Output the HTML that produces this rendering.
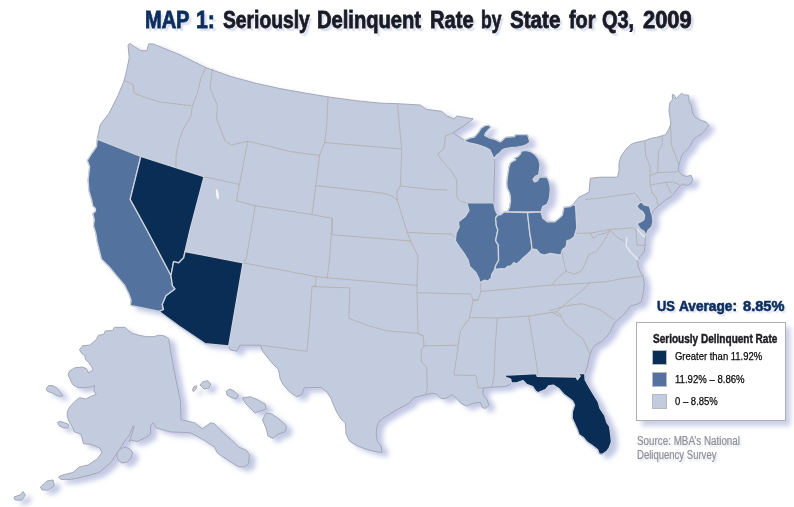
<!DOCTYPE html>
<html lang="en"><head><meta charset="utf-8"><title>MAP 1: Seriously Delinquent Rate by State for Q3, 2009</title>
<style>
html,body{margin:0;padding:0;background:#fff;}
body{width:794px;height:507px;overflow:hidden;position:relative;font-family:"Liberation Sans",Arial,sans-serif;}
#map{position:absolute;left:0;top:0;}
.t{position:absolute;white-space:nowrap;transform-origin:0 0;line-height:1;}
.title{font-weight:bold;color:#1b1b26;text-shadow:3px 3px 2px #d6dded;-webkit-text-stroke:0.8px #1b1b26;}
.title.navy{color:#0b2e5e;-webkit-text-stroke:0.8px #0b2e5e;}
.avg{font-weight:bold;color:#0b2e5e;text-shadow:2px 2px 2px #d6dded;-webkit-text-stroke:0.6px #0b2e5e;}
.legend{position:absolute;left:636px;top:322.3px;width:147.5px;height:97.2px;border:1px solid #adadb8;background:#fff;box-shadow:4.5px 5px 5px #c9cfe6;}
.lt{font-weight:bold;color:#1c1c22;-webkit-text-stroke:0.45px #1c1c22;}
.li{color:#0a0a0a;-webkit-text-stroke:0.25px #0a0a0a;}
.sw{position:absolute;left:652.2px;width:13.2px;height:13.2px;border:1.6px solid #b6b8c3;}
.src{color:#8f8f96;-webkit-text-stroke:0.2px #8f8f96;text-shadow:2px 2px 2px #d9deec;}
</style></head><body>

<svg id="map" width="794" height="507" viewBox="0 0 794 507">
<defs><filter id="sh" x="-5%" y="-5%" width="115%" height="115%"><feGaussianBlur in="SourceAlpha" stdDeviation="2.8" result="b"/><feOffset in="b" dx="5.5" dy="4" result="o"/><feFlood flood-color="#b8bfe0" flood-opacity="0.85"/><feComposite in2="o" operator="in" result="s"/><feMerge><feMergeNode in="s"/><feMergeNode in="SourceGraphic"/></feMerge></filter></defs>
<g filter="url(#sh)" fill="#c3cbdf" stroke="#a4a8b6" stroke-width="1" stroke-linejoin="round">
<path d="M128.0,45.0 L130.0,43.5 L134.3,46.4 L140.6,50.7 L146.9,50.7 L148.7,43.9 L153.2,43.9 L181.0,55.3 L206.3,67.9 L231.5,76.7 L256.8,83.5 L280.0,88.6 L305.3,93.1 L328.0,96.9 L355.8,100.7 L381.0,103.2 L397.4,103.7 L420.2,105.0 L426.5,109.5 L441.6,111.3 L446.7,115.9 L454.2,118.9 L456.8,115.9 L473.2,118.9 L465.0,125.0 L452.6,132.8 L464.4,140.4 L469.7,138.1 L474.3,137.0 L478.1,132.8 L481.1,128.2 L484.9,125.6 L488.7,125.2 L491.0,127.0 L488.7,129.4 L485.7,132.8 L484.6,135.5 L489.5,137.8 L495.6,139.6 L500.1,141.9 L502.4,140.4 L505.4,137.3 L514.6,136.6 L515.3,134.6 L527.5,134.6 L528.7,138.1 L529.8,142.2 L526.7,144.6 L521.4,146.5 L516.8,147.2 L510.8,147.7 L505.4,148.7 L502.4,149.8 L500.1,152.5 L496.3,155.6 L493.7,158.6 L494.8,160.6 L494.5,173.2 L494.0,188.4 L493.8,202.8 L495.2,210.0 L497.8,215.0 L501.0,214.5 L504.0,212.0 L507.5,211.6 L509.5,207.5 L510.5,201.5 L510.3,196.0 L509.3,192.4 L507.3,188.3 L506.8,183.3 L507.3,177.2 L508.3,171.2 L508.8,167.2 L510.3,163.0 L513.3,161.0 L515.8,159.8 L514.3,158.0 L517.4,157.0 L520.4,154.0 L521.4,151.0 L526.0,150.4 L530.5,151.5 L535.5,155.0 L538.5,159.0 L540.0,164.0 L539.5,170.2 L538.5,175.2 L535.5,176.2 L533.0,179.3 L534.5,181.8 L537.5,180.8 L539.5,177.2 L546.6,177.0 L548.6,180.3 L550.0,185.3 L550.3,189.1 L549.5,198.2 L547.2,204.3 L542.7,206.6 L541.1,211.9 L542.7,218.0 L547.2,221.8 L554.8,221.8 L559.4,218.0 L562.4,215.0 L563.9,207.3 L570.0,206.6 L572.6,204.8 L578.9,197.2 L589.0,192.2 L590.3,178.3 L600.0,177.2 L617.5,177.2 L619.0,170.4 L619.0,162.8 L621.3,155.6 L626.1,149.1 L630.6,144.6 L635.2,142.6 L644.3,140.8 L650.4,138.5 L658.0,137.0 L665.6,134.7 L668.6,129.4 L670.9,124.1 L670.1,118.0 L668.9,110.4 L669.8,102.8 L672.4,99.7 L672.4,94.4 L674.4,95.2 L676.2,99.0 L678.5,96.0 L681.5,93.4 L684.6,94.9 L688.7,95.2 L689.1,101.3 L691.4,105.8 L692.2,111.9 L694.4,116.5 L700.5,120.3 L705.8,121.8 L708.9,125.6 L705.1,130.1 L702.0,133.9 L697.5,136.2 L692.9,140.0 L690.6,145.3 L686.8,149.9 L683.8,152.9 L682.0,155.2 L680.5,159.7 L679.0,164.3 L678.2,170.4 L682.0,174.9 L686.6,176.5 L691.1,175.2 L692.7,179.5 L691.1,183.3 L686.6,185.6 L682.8,184.0 L680.5,185.6 L677.5,188.6 L674.4,193.2 L670.6,197.0 L665.3,200.0 L660.8,203.8 L656.2,207.6 L652.9,211.4 L652.3,215.4 L652.9,222.0 L651.7,226.7 L648.1,230.2 L646.0,235.6 L645.2,238.5 L645.0,245.0 L644.3,251.5 L640.5,256.0 L637.5,260.6 L638.2,266.6 L640.5,272.0 L642.8,275.8 L644.3,283.4 L643.8,290.0 L642.7,296.1 L641.1,302.2 L636.6,304.4 L630.5,306.0 L627.5,309.7 L624.4,314.3 L619.9,318.1 L615.3,321.9 L612.3,327.2 L610.0,332.5 L606.2,337.1 L601.6,341.6 L595.6,344.7 L592.5,348.5 L590.3,353.8 L588.7,359.9 L587.2,367.0 L584.8,373.4 L585.1,379.7 L588.9,386.6 L593.4,394.2 L598.2,402.0 L600.2,408.7 L604.7,415.5 L606.8,422.3 L609.5,426.5 L610.7,434.5 L611.4,442.1 L609.1,448.2 L606.8,451.2 L602.3,454.2 L599.2,453.9 L597.7,449.7 L591.6,445.1 L587.1,442.1 L583.3,437.5 L579.0,434.5 L577.5,430.0 L574.8,424.0 L572.2,418.2 L572.4,411.7 L574.6,405.0 L572.7,401.1 L569.9,398.7 L563.8,394.2 L559.2,388.9 L553.2,385.1 L548.6,385.8 L545.6,389.6 L538.0,392.7 L535.7,391.1 L532.7,386.6 L526.6,384.3 L522.8,380.5 L516.7,382.8 L511.4,382.8 L509.4,385.0 L504.8,386.5 L491.1,387.2 L483.5,388.0 L482.8,394.0 L487.3,400.1 L488.9,405.4 L485.1,408.5 L482.0,407.0 L480.5,402.4 L472.9,403.2 L466.8,406.2 L460.8,403.2 L457.0,398.6 L451.6,394.8 L445.6,398.6 L441.0,398.6 L436.5,394.0 L431.9,393.3 L425.8,394.8 L419.7,396.3 L413.7,397.8 L409.1,403.2 L403.5,406.3 L396.4,409.8 L389.2,414.5 L382.1,418.7 L378.6,422.3 L376.8,427.0 L376.2,434.1 L377.4,441.2 L381.0,446.0 L382.1,452.5 L377.4,451.9 L369.1,450.1 L357.3,445.9 L349.5,441.2 L346.0,434.1 L345.4,422.8 L340.7,418.7 L335.9,410.4 L334.0,406.0 L331.0,398.4 L327.2,392.3 L321.1,387.4 L304.4,387.7 L301.4,394.6 L296.8,396.8 L289.2,391.5 L283.2,384.7 L280.1,378.6 L278.6,369.5 L274.0,365.0 L268.0,358.1 L262.7,351.3 L260.4,345.2 L240.0,345.2 L236.8,351.3 L230.0,349.7 L228.7,346.0 L205.0,343.6 L179.0,326.0 L159.2,311.5 L130.4,305.4 L131.1,300.1 L128.9,294.0 L124.3,284.9 L116.7,275.8 L109.1,266.7 L101.5,259.1 L99.6,251.6 L97.3,242.5 L95.8,233.4 L93.5,225.8 L94.3,219.7 L92.8,213.7 L95.5,211.0 L95.5,208.5 L92.8,206.0 L91.8,200.5 L88.9,190.8 L88.1,180.1 L89.6,166.5 L87.3,160.4 L92.7,152.0 L96.5,146.7 L97.2,139.1 L100.2,124.7 L109.0,113.3 L117.9,95.7 L124.2,80.5 L126.7,70.4 L129.2,57.8Z"/>
<path d="M79.5,349.6 L82.5,345.8 L90.1,345.1 L92.4,342.8 L96.2,339.7 L98.5,335.2 L103.8,334.4 L105.3,330.9 L112.9,330.6 L114.4,327.3 L125.1,327.3 L128.1,330.6 L132.7,333.7 L138.7,335.2 L146.3,336.7 L153.9,336.7 L158.5,335.2 L163.0,335.5 L167.7,337.7 L168.7,338.6 L171.0,353.8 L173.3,366.0 L177.0,385.0 L180.3,400.0 L181.0,419.7 L194.7,422.8 L202.3,428.9 L210.6,422.8 L214.4,423.5 L220.5,430.4 L231.1,439.5 L238.7,447.1 L246.3,450.1 L249.4,454.7 L248.6,463.8 L244.8,466.8 L238.7,466.8 L231.1,462.3 L222.0,456.2 L217.5,453.2 L214.4,447.1 L205.3,441.0 L196.2,435.7 L190.1,432.7 L170.4,431.9 L156.7,428.1 L152.9,422.8 L150.6,425.8 L150.4,434.0 L146.3,437.1 L137.2,441.6 L131.1,440.1 L129.0,442.0 L131.5,436.0 L134.2,426.0 L133.0,426.0 L129.5,435.0 L125.0,440.5 L123.0,444.0 L119.0,450.0 L115.0,456.0 L112.0,461.0 L106.3,466.5 L98.7,472.5 L91.1,474.8 L82.0,477.1 L71.4,479.4 L60.8,479.4 L58.5,477.1 L60.8,475.6 L66.8,474.0 L72.9,472.5 L79.0,467.2 L88.1,464.9 L97.2,458.9 L101.8,452.8 L100.3,448.2 L91.1,444.4 L83.5,443.7 L81.0,434.1 L74.2,431.8 L72.7,427.2 L69.6,422.7 L67.3,417.3 L67.3,411.3 L70.4,406.0 L74.9,401.4 L79.5,397.6 L85.6,399.1 L91.6,396.1 L96.2,394.4 L93.9,390.6 L94.7,385.3 L91.6,386.8 L85.6,387.6 L78.0,387.6 L72.7,384.6 L70.4,380.0 L68.1,374.7 L69.6,370.9 L74.9,367.8 L82.5,367.1 L86.3,368.6 L88.6,373.2 L93.2,369.4 L90.9,365.6 L88.6,362.5 L85.6,359.5 L84.8,355.7 L81.0,352.7Z"/>
<path d="M46.1,389.1 L48.4,385.6 L52.9,385.6 L57.5,388.4 L60.5,392.9 L62.8,396.0 L58.2,396.0 L52.2,392.9 L47.6,391.4Z"/>
<path d="M57.5,422.7 L60.0,421.2 L64.3,422.7 L68.1,424.2 L69.0,426.5 L67.3,428.0 L62.8,427.7 L59.0,425.7Z"/>
<path d="M117.5,452.0 L121.0,448.5 L126.0,447.0 L130.5,449.5 L132.7,453.0 L131.0,458.0 L127.0,462.0 L122.0,463.0 L118.0,460.0 L116.7,456.0Z"/>
<path d="M40.4,487.0 L47.0,481.0 L53.0,480.0 L54.3,486.0 L48.0,490.0 L42.0,490.0Z"/>
<path d="M13.9,497.0 L20.0,495.0 L23.0,491.4 L25.3,495.0 L22.0,500.2 L15.0,500.0Z"/>
<path d="M192.5,390.0 L194.0,386.5 L196.8,385.9 L196.0,389.0 L193.5,391.7Z"/>
<path d="M200.0,385.0 L203.0,381.5 L208.0,380.8 L210.7,384.0 L209.0,388.0 L204.0,389.0Z"/>
<path d="M226.4,391.0 L230.0,389.0 L234.0,391.0 L238.5,395.0 L236.0,399.0 L231.0,397.5 L227.0,395.0Z"/>
<path d="M242.3,398.0 L250.0,396.7 L258.0,400.0 L265.0,404.0 L266.3,409.0 L260.0,411.0 L255.0,413.0 L251.0,409.0 L246.0,404.0Z"/>
<path d="M262.5,420.0 L266.0,413.0 L272.0,414.0 L279.0,419.0 L286.5,426.0 L285.0,432.0 L278.0,434.0 L273.0,438.4 L268.0,436.0 L266.0,428.0Z"/>
</g>
<g fill="none" stroke="#b3aea8" stroke-width="1" stroke-opacity="0.9" stroke-dasharray="1.5 1" stroke-linejoin="round" stroke-linecap="round">
<path d="M124.2,80.5 L133.0,84.3 L134.3,93.1 L145.7,97.7 L160.8,102.0 L181.0,104.5 L191.1,105.8"/>
<path d="M205.5,67.9 L201.0,78.0 L197.4,93.0 L192.4,105.8"/>
<path d="M212.6,69.0 L210.0,88.0 L217.6,105.8 L216.4,118.4 L225.2,141.0 L231.5,145.0 L240.0,143.0 L247.7,141.4"/>
<path d="M192.4,105.8 L191.0,116.0 L183.5,128.5 L179.7,138.6 L176.0,156.0 L176.0,168.0"/>
<path d="M204.0,176.7 L239.0,184.3"/>
<path d="M247.7,141.4 L236.3,200.7"/>
<path d="M247.7,141.4 L270.4,146.4 L289.3,151.5 L308.3,154.0 L319.6,155.3"/>
<path d="M328.0,96.9 L326.7,126.0 L324.7,142.6 L319.6,155.3"/>
<path d="M324.7,142.6 L401.7,149.0"/>
<path d="M397.4,103.7 L400.0,131.0 L401.7,149.0 L400.5,185.6 L397.0,192.0 L397.0,199.4"/>
<path d="M236.3,200.7 L255.3,205.8 L312.0,214.6"/>
<path d="M255.3,205.8 L246.4,258.0 L243.0,262.8"/>
<path d="M319.6,155.3 L315.9,185.6 L312.0,214.6"/>
<path d="M315.9,185.6 L381.5,193.0 L390.0,195.0 L397.0,199.4"/>
<path d="M400.5,186.0 L429.5,189.3 L447.0,190.0"/>
<path d="M397.0,199.4 L406.8,231.0 L410.6,241.0"/>
<path d="M312.0,214.6 L332.3,218.4 L332.3,234.8"/>
<path d="M332.3,234.8 L410.6,241.0"/>
<path d="M332.3,218.4 L329.7,258.0 L327.2,277.8"/>
<path d="M243.0,262.8 L315.9,276.5 L327.2,277.8"/>
<path d="M327.2,277.8 L416.9,285.4"/>
<path d="M410.6,241.0 L418.0,256.0 L417.0,285.4"/>
<path d="M315.9,276.5 L315.9,285.4 L312.0,286.6 L309.5,323.0 L307.0,351.0"/>
<path d="M312.0,286.6 L350.0,287.9 L348.7,318.2 L368.9,325.8 L386.6,330.8 L416.9,333.3 L423.2,335.9"/>
<path d="M260.4,345.2 L306.7,351.3"/>
<path d="M416.9,285.4 L418.0,333.3 L423.2,335.9 L424.0,345.8"/>
<path d="M424.0,345.8 L421.3,350.0 L421.3,362.2 L426.6,366.7 L427.3,388.0 L425.8,394.8"/>
<path d="M424.0,345.8 L456.8,345.3"/>
<path d="M417.7,292.7 L470.7,294.0 L473.0,300.0 L478.0,300.0"/>
<path d="M480.3,283.0 L481.0,291.5 L478.0,300.0 L473.2,300.3 L469.4,318.0 L460.6,330.6 L458.0,345.3 L457.7,350.0 L453.9,375.0 L476.0,375.5 L478.2,388.0 L483.5,388.0"/>
<path d="M497.2,318.0 L495.0,350.0 L494.2,375.8 L491.9,386.5"/>
<path d="M528.8,316.7 L537.6,371.0 L537.2,376.6"/>
<path d="M481.0,291.5 L520.0,288.0 L551.5,285.0 L560.0,284.9 L605.6,281.8 L620.8,278.8 L643.5,275.8"/>
<path d="M469.4,317.5 L497.2,318.0 L528.8,316.0 L556.6,311.7 L561.6,315.5"/>
<path d="M556.6,311.7 L570.0,300.0 L583.0,290.0 L590.0,282.0"/>
<path d="M553.0,312.8 L561.4,317.3 L565.2,324.2 L575.8,333.3 L582.7,338.6 L586.5,346.2 L589.8,353.8"/>
<path d="M550.0,310.5 L565.2,306.0 L581.9,303.7 L600.1,309.7 L613.8,319.6"/>
<path d="M562.4,249.7 L563.0,258.0 L566.1,271.2 L560.0,275.8 L551.5,285.0"/>
<path d="M566.1,271.2 L573.7,274.2 L581.3,271.2 L585.1,263.6 L588.9,254.5 L596.5,251.5 L604.0,240.8 L610.1,230.2"/>
<path d="M577.0,233.2 L590.4,233.2 L610.1,229.4 L632.9,227.9 L636.0,230.2"/>
<path d="M590.4,233.2 L593.4,238.5 L598.0,234.7 L605.6,233.2 L610.1,230.2 L617.7,237.8 L623.8,240.8 L626.8,245.4"/>
<path d="M636.0,230.2 L637.0,245.0 L645.0,245.5"/>
<path d="M586.0,199.5 L600.0,198.0 L634.9,193.2 L639.5,198.5 L641.0,202.3"/>
<path d="M644.8,141.0 L645.6,155.2 L650.1,166.6 L650.1,185.6 L652.4,193.2 L656.2,197.7 L658.0,205.0"/>
<path d="M662.3,136.0 L662.3,144.6 L658.5,151.4 L657.7,172.7"/>
<path d="M670.5,124.0 L671.4,144.6 L677.5,161.3 L679.0,164.3"/>
<path d="M650.1,175.7 L657.7,172.7 L676.0,171.9 L678.2,170.4"/>
<path d="M650.9,184.8 L665.3,182.5 L672.9,181.8 L680.0,185.0"/>
<path d="M666.0,182.5 L671.4,193.2"/>
<path d="M406.8,232.3 L429.5,233.5 L452.0,234.0 L455.0,238.0"/>
<path d="M466.7,202.8 L460.6,201.3 L456.8,197.0 L456.8,180.0 L452.0,172.0 L446.0,165.0 L440.0,158.0 L437.8,153.7 L444.0,148.7 L445.4,136.0 L451.7,133.5"/>
</g>
<g stroke="#ced2dc" stroke-width="1.3" stroke-linejoin="round">
<path fill="#53739e" d="M97.2,139.1 L140.8,156.5 L130.2,199.4 L147.0,230.0 L171.0,275.5 L172.4,285.6 L175.0,289.0 L166.0,295.7 L162.3,304.5 L163.5,309.5 L159.2,311.5 L130.4,305.4 L131.1,300.1 L128.9,294.0 L124.3,284.9 L116.7,275.8 L109.1,266.7 L101.5,259.1 L99.6,251.6 L97.3,242.5 L95.8,233.4 L93.5,225.8 L94.3,219.7 L92.8,213.7 L95.5,211.0 L95.5,208.5 L92.8,206.0 L91.8,200.5 L88.9,190.8 L88.1,180.1 L89.6,166.5 L87.3,160.4 L92.7,152.0 L96.5,146.7Z"/>
<path fill="#53739e" d="M464.4,140.4 L469.7,138.1 L474.3,137.0 L478.1,132.8 L481.1,128.2 L484.9,125.6 L488.7,125.2 L491.0,127.0 L488.7,129.4 L485.7,132.8 L484.6,135.5 L489.5,137.8 L495.6,139.6 L500.1,141.9 L502.4,140.4 L505.4,137.3 L514.6,136.6 L515.3,134.6 L527.5,134.6 L528.7,138.1 L529.8,142.2 L526.7,144.6 L521.4,146.5 L516.8,147.2 L510.8,147.7 L505.4,148.7 L502.4,149.8 L500.1,152.5 L496.3,155.6 L493.7,158.6 L491.8,154.0 L489.8,149.8 L485.7,147.7 L477.3,144.6 L468.2,142.7 L464.4,141.1Z"/>
<path fill="#53739e" d="M504.0,212.0 L507.5,211.6 L509.5,207.5 L510.5,201.5 L510.3,196.0 L509.3,192.4 L507.3,188.3 L506.8,183.3 L507.3,177.2 L508.3,171.2 L508.8,167.2 L510.3,163.0 L513.3,161.0 L515.8,159.8 L514.3,158.0 L517.4,157.0 L520.4,154.0 L521.4,151.0 L526.0,150.4 L530.5,151.5 L535.5,155.0 L538.5,159.0 L540.0,164.0 L539.5,170.2 L538.5,175.2 L535.5,176.2 L533.0,179.3 L534.5,181.8 L537.5,180.8 L539.5,177.2 L546.6,177.0 L548.6,180.3 L550.0,185.3 L550.3,189.1 L549.5,198.2 L547.2,204.3 L542.7,206.6 L541.1,211.9Z"/>
<path fill="#53739e" d="M466.7,202.8 L493.8,202.8 L495.2,210.0 L497.8,215.0 L495.6,218.0 L496.3,225.6 L497.8,230.0 L495.6,240.6 L498.3,245.2 L498.6,260.4 L495.6,265.7 L494.8,269.5 L491.8,274.0 L491.0,278.6 L487.5,281.0 L484.9,280.1 L479.6,282.6 L478.9,278.6 L475.8,272.5 L469.7,266.5 L468.2,260.4 L463.7,252.8 L459.1,246.7 L455.3,240.6 L456.1,233.2 L459.1,227.1 L458.4,221.8 L465.2,216.5 L469.0,210.4Z"/>
<path fill="#53739e" d="M497.8,215.0 L501.0,214.5 L504.0,212.0 L527.5,212.7 L529.8,233.2 L531.3,242.2 L532.0,249.0 L530.5,251.3 L527.5,254.3 L522.9,258.1 L519.9,261.1 L516.8,264.0 L513.8,262.7 L511.0,266.0 L507.7,266.5 L504.7,269.0 L501.6,268.7 L494.8,269.5 L495.6,265.7 L498.6,260.4 L498.3,245.2 L495.6,240.6 L497.8,230.0 L496.3,225.6 L495.6,218.0Z"/>
<path fill="#53739e" d="M527.5,212.7 L541.1,211.9 L542.7,218.0 L547.2,221.8 L554.8,221.8 L559.4,218.0 L562.4,215.0 L563.9,207.3 L570.0,206.6 L572.6,204.8 L575.5,205.0 L576.8,227.9 L574.2,236.7 L570.0,239.9 L567.0,240.6 L566.2,246.7 L562.4,249.7 L560.9,255.1 L556.3,254.3 L550.3,253.5 L544.2,255.1 L539.6,253.5 L536.6,249.7 L532.0,249.0 L531.3,242.2 L529.8,233.2Z"/>
<path fill="#53739e" d="M641.6,201.8 L644.0,204.8 L649.3,206.0 L650.5,209.5 L651.0,212.0 L652.3,215.4 L652.9,222.0 L651.7,226.7 L648.1,230.2 L646.0,235.6 L644.0,231.4 L640.4,229.0 L636.9,223.7 L640.4,222.0 L644.0,219.6 L644.6,215.4 L642.8,211.9 L639.3,209.5 L636.9,206.6 L638.7,203.6Z"/>
<path fill="#0a2d55" d="M140.8,156.5 L204.0,176.7 L190.0,230.0 L185.0,251.5 L183.7,257.8 L178.7,262.8 L173.6,261.6 L171.0,275.5 L147.0,230.0 L130.2,199.4Z"/>
<path fill="#0a2d55" d="M185.0,251.5 L243.0,262.8 L228.7,346.0 L205.0,343.6 L179.0,326.0 L159.2,311.5 L163.5,309.5 L162.3,304.5 L166.0,295.7 L175.0,289.0 L172.4,285.6 L171.0,275.5 L171.0,275.5 L173.6,261.6 L178.7,262.8 L183.7,257.8Z"/>
<path fill="#0a2d55" d="M504.6,375.2 L536.5,373.7 L537.2,376.4 L576.0,377.0 L577.5,379.7 L580.2,376.0 L578.2,372.5 L581.3,373.7 L584.8,373.4 L585.1,379.7 L588.9,386.6 L593.4,394.2 L598.2,402.0 L600.2,408.7 L604.7,415.5 L606.8,422.3 L609.5,426.5 L610.7,434.5 L611.4,442.1 L609.1,448.2 L606.8,451.2 L602.3,454.2 L599.2,453.9 L597.7,449.7 L591.6,445.1 L587.1,442.1 L583.3,437.5 L579.0,434.5 L577.5,430.0 L574.8,424.0 L572.2,418.2 L572.4,411.7 L574.6,405.0 L572.7,401.1 L569.9,398.7 L563.8,394.2 L559.2,388.9 L553.2,385.1 L548.6,385.8 L545.6,389.6 L538.0,392.7 L535.7,391.1 L532.7,386.6 L526.6,384.3 L522.8,380.5 L516.7,382.8 L511.4,382.8 L510.6,379.0 L506.1,377.5Z"/>
</g>
<g fill="none" stroke="#e4e7f0" stroke-width="1.5" stroke-linecap="round" stroke-linejoin="round">
<path d="M626.8,237.8 L626.0,245.4 L629.9,251.5 L635.2,256.8 L637.8,259.5"/>
<path d="M637.5,229.5 L641.0,233.5 L644.5,237.0"/>
</g>
<path fill="#f4f5fa" d="M215.8,189.5 L217.5,189.3 L218.6,193.0 L219.0,198.5 L217.2,199.4 L216.0,195.0Z"/>
</svg>

<div class="legend"></div>
<span class="t title navy" style="left:145.20px;top:8.28px;font-size:24px;transform:scaleX(0.8339)">MAP</span>
<span class="t title navy" style="left:196.17px;top:8.28px;font-size:24px;transform:scaleX(0.8878)">1:</span>
<span class="t title" style="left:222.52px;top:8.28px;font-size:24px;transform:scaleX(0.8037)">Seriously</span>
<span class="t title" style="left:317.30px;top:8.28px;font-size:24px;transform:scaleX(0.8392)">Delinquent</span>
<span class="t title" style="left:429.90px;top:8.28px;font-size:24px;transform:scaleX(0.8374)">Rate</span>
<span class="t title" style="left:481.26px;top:8.28px;font-size:24px;transform:scaleX(0.7308)">by</span>
<span class="t title" style="left:509.74px;top:8.28px;font-size:24px;transform:scaleX(0.8590)">State</span>
<span class="t title" style="left:568.53px;top:8.28px;font-size:24px;transform:scaleX(0.8258)">for</span>
<span class="t title" style="left:602.13px;top:8.28px;font-size:24px;transform:scaleX(0.8296)">Q3,</span>
<span class="t title" style="left:642.56px;top:8.28px;font-size:24px;transform:scaleX(0.9119)">2009</span>
<span class="t avg" style="left:656.75px;top:297.56px;font-size:15.4px;transform:scaleX(0.8381)">US</span>
<span class="t avg" style="left:679.47px;top:297.56px;font-size:15.4px;transform:scaleX(0.8877)">Average:</span>
<span class="t avg" style="left:742.98px;top:297.56px;font-size:15.4px;transform:scaleX(0.9494)">8.85%</span>
<span class="t lt" style="left:652.69px;top:332.84px;font-size:12px;transform:scaleX(0.8363)">Seriously Delinquent Rate</span>
<span class="t li" style="left:675.01px;top:351.11px;font-size:10.5px;transform:scaleX(0.9015)">Greater than 11.92%</span>
<span class="t li" style="left:675.41px;top:373.71px;font-size:10.5px;transform:scaleX(0.9122)">11.92% – 8.86%</span>
<span class="t li" style="left:675.01px;top:395.81px;font-size:10.5px;transform:scaleX(0.9047)">0 – 8.85%</span>
<span class="t src" style="left:636.88px;top:434.84px;font-size:12px;transform:scaleX(0.8198)">Source: MBA’s National</span>
<span class="t src" style="left:636.88px;top:448.74px;font-size:12px;transform:scaleX(0.7940)">Deliquency Survey</span>
<span class="sw" style="top:350.2px;background:#0a2d55"></span>
<span class="sw" style="top:372px;background:#53739e"></span>
<span class="sw" style="top:393.6px;background:#c3cbdf"></span>
</body></html>
